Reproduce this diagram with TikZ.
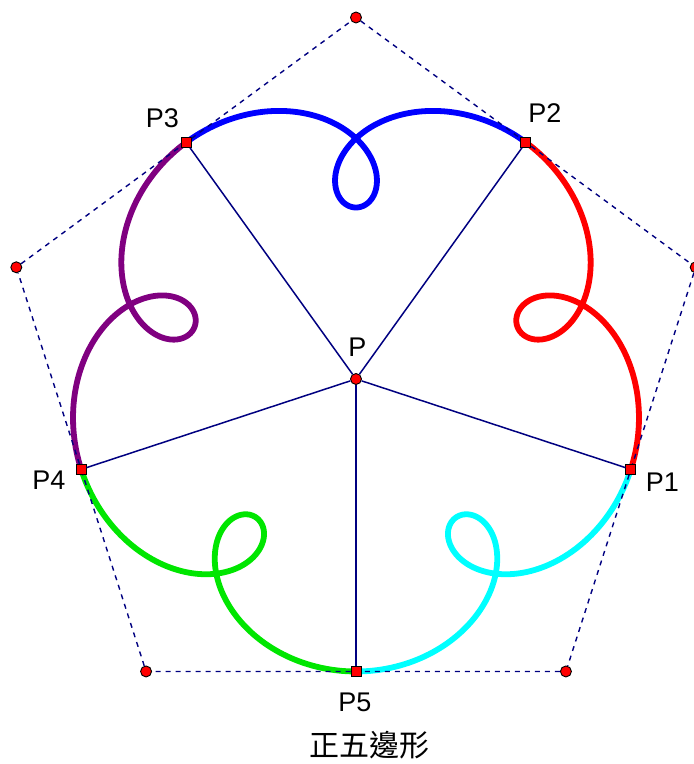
\documentclass[tikz,border=0pt]{standalone}
\usepackage{fontspec}
\newfontfamily\labfont{Liberation Sans}
\newfontfamily\cjkfont{Noto Sans CJK TC}
\definecolor{navyline}{RGB}{0,0,128}
\definecolor{curvepurple}{RGB}{128,0,128}
\definecolor{curvegreen}{RGB}{0,230,0}
\definecolor{curvecyan}{RGB}{0,255,255}
\tikzset{
  curveline/.style={line width=5.8pt, line cap=round, line join=round},
  spoke/.style={navyline, line width=1.5pt},
  pent/.style={navyline, line width=1.4pt, dash pattern=on 5pt off 5pt},
  idot/.style={rectangle, minimum size=10pt, inner sep=0pt, fill=red, draw=black, line width=0.9pt},
  vdot/.style={circle, minimum size=11pt, inner sep=0pt, fill=red, draw=black, line width=0.9pt},
  lab/.style={inner sep=0pt, font=\labfont\fontsize{27}{30}\selectfont},
  captiontext/.style={inner sep=0pt, font=\cjkfont\fontsize{30}{34}\selectfont}
}
\begin{document}
\begin{tikzpicture}[x=0.988pt, y=1pt]
\useasboundingbox (-356pt,-385pt) rectangle (338pt,379pt);
% looped curve, one colour per sector
\foreach \a/\b/\c in {-90/-18/curvecyan, -18/54/red, 54/126/blue, 126/198/curvepurple, 198/270/curvegreen}
  \draw[curveline, \c] plot[domain=\a:\b, samples=180, variable=\t]
    ({232*cos(\t)+6*sin(4*\t)-66.5*sin(6*\t)}, {232*sin(\t)+6*cos(4*\t)+66.5*cos(6*\t)});
% points
\node[vdot] (P) at (0,0) {};
\node[idot] (P1) at (-18:292.5) {};
\node[idot] (P2) at (54:292.5) {};
\node[idot] (P3) at (126:292.5) {};
\node[idot] (P4) at (198:292.5) {};
\node[idot] (P5) at (-90:292.5) {};
\node[vdot] (V1) at (90:361.5) {};
\node[vdot] (V2) at (18:361.5) {};
\node[vdot] (V3) at (-54:361.5) {};
\node[vdot] (V4) at (-126:361.5) {};
\node[vdot] (V5) at (162:361.5) {};
% spokes
\foreach \q in {P1,P2,P3,P4,P5} \draw[spoke] (P) -- (\q);
% dashed pentagon
\draw[pent] (V1) -- (P2) -- (V2) -- (P1) -- (V3) -- (P5) -- (V4) -- (P4) -- (V5) -- (P3) -- (V1);
% labels
\node[lab] (LP) at (1.5pt,32pt) {P};
\node[lab] (L1) at (306.5pt,-103pt) {P1};
\node[lab] (L2) at (189pt,265.5pt) {P2};
\node[lab] (L3) at (-193.5pt,261pt) {P3};
\node[lab] (L4) at (-307pt,-101pt) {P4};
\node[lab] (L5) at (-1pt,-323pt) {P5};
\node[captiontext] (T) at (14pt,-366pt) {正五邊形};
\end{tikzpicture}
\end{document}
